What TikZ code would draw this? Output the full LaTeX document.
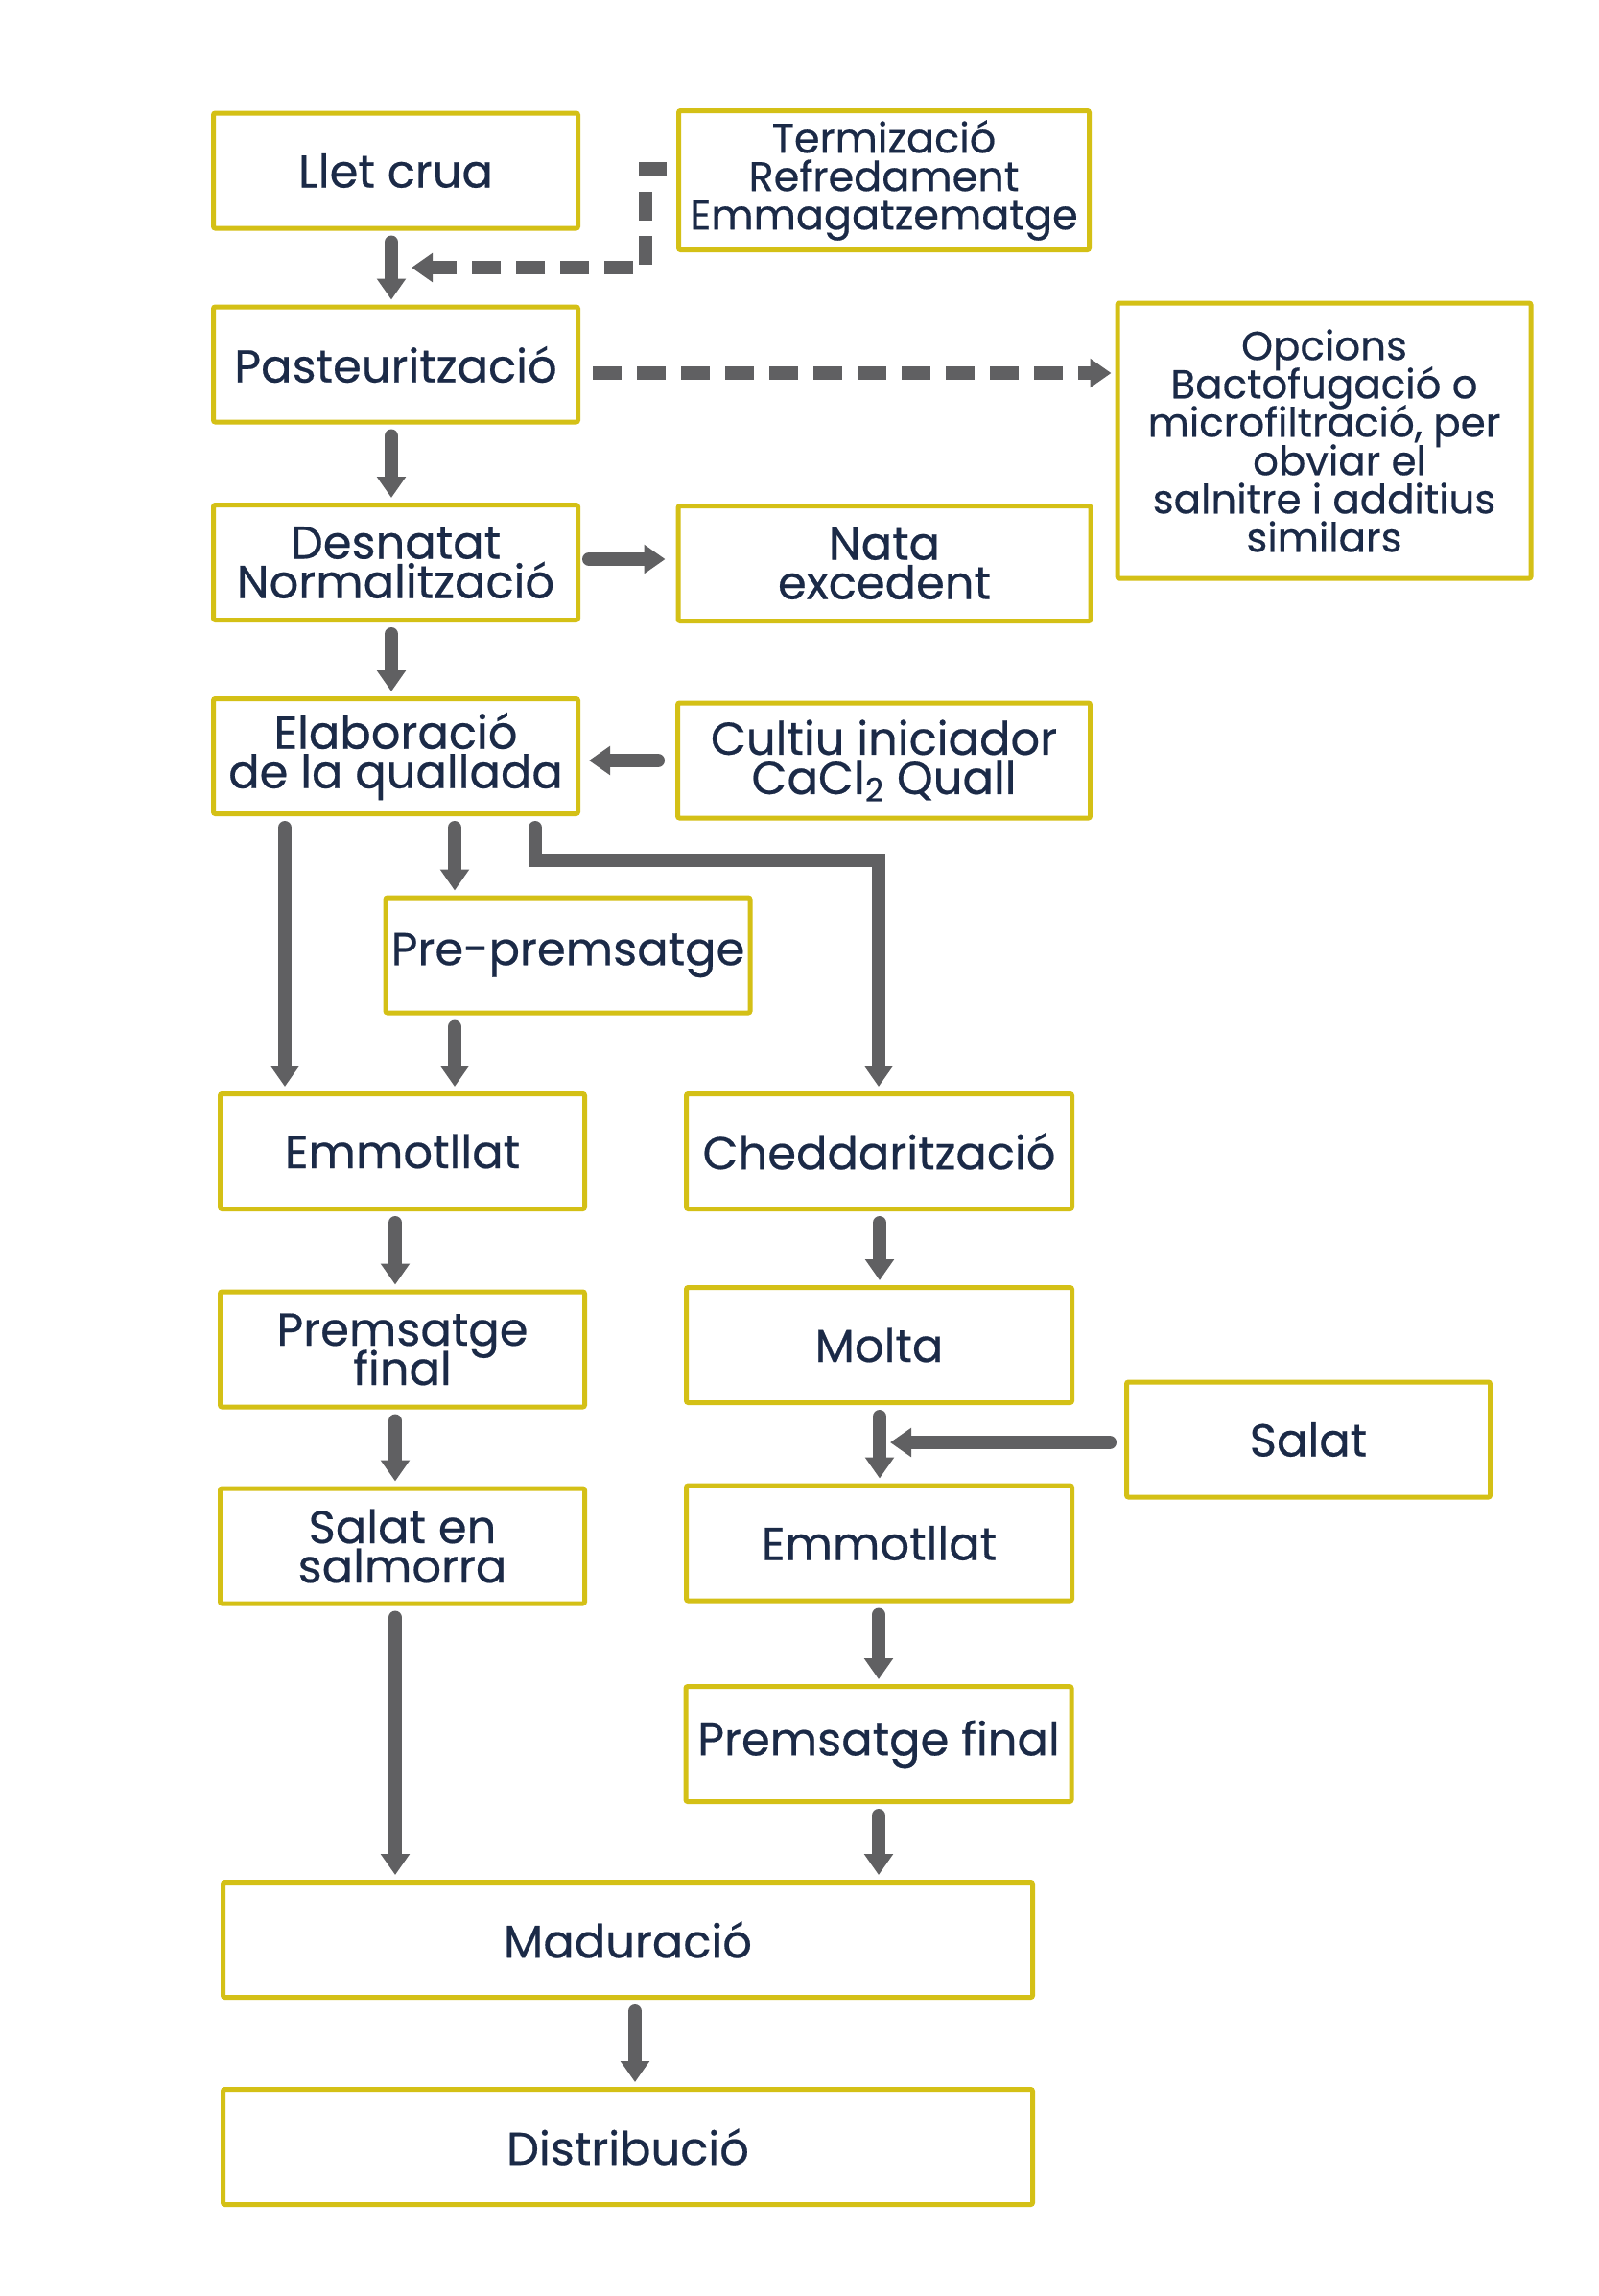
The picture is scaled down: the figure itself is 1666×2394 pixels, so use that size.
\documentclass[tikz,border=0pt]{standalone}
\usepackage{fontspec}
\setmainfont{Poppins}[FakeBold=0.4]
\usetikzlibrary{arrows.meta}
\definecolor{boxy}{RGB}{212,192,22}
\definecolor{navy}{RGB}{27,42,71}
\definecolor{arrg}{RGB}{96,96,98}
\newcommand\tightlns{\lineskiplimit-50pt\relax}
\begin{document}
\begin{tikzpicture}[x=0.5pt,y=-0.5pt,
  box/.style={draw=boxy, line width=2.5pt, fill=white, text=navy, align=center,
    inner sep=0pt, minimum height=60pt, minimum width=190pt, rounded corners=1pt,
    font=\fontsize{24}{20.5}\selectfont\tightlns},
  cbox/.style={box, font=\fontsize{21.5}{20}\selectfont\tightlns},
  obox/.style={box, font=\fontsize{21}{20}\selectfont\tightlns},
  arr/.style={draw=arrg, line width=7pt, line cap=round,
    -{Triangle[width=14.5pt,length=11pt]}, shorten <=6pt, shorten >=2.5pt},
  darr/.style={draw=arrg, line width=7pt, line cap=butt, dash pattern=on 15pt off 8pt,
    -{Triangle[width=14.5pt,length=11pt]}}
]
\fill[white] (0,0) rectangle (1666,2394);
\useasboundingbox (0,0) rectangle (1666,2394);

% boxes
\node[box] (llet) at (412.5,178) {Llet crua};
\node[cbox, minimum width=214pt, minimum height=72.5pt] (term) at (921.5,188)
  {Termizació\\Refredament\\Emmagatzematge};
\node[box] (past) at (412.5,380) {Pasteurització};
\node[obox, minimum width=215.5pt, minimum height=143.5pt] (opc) at (1380.5,459.5)
  {Opcions\\Bactofugació o\\microfiltració, per\\\hspace*{16pt}obviar el\\salnitre i additius\\similars};
\node[box] (desn) at (412.5,586.5) {Desnatat\\Normalització};
\node[box, minimum width=215pt] (nata) at (922,587.5) {Nata\\excedent};
\node[box] (elab) at (412.5,788.5) {Elaboració\\de la quallada};
\node[box, minimum width=215pt] (cult) at (921.5,793) {Cultiu iniciador\\CaCl\textsubscript{2} Quall};
\node[box] (pre) at (592,996) {Pre-premsatge};
\node[box] (emL) at (419.5,1200.5) {Emmotllat};
\node[box, minimum width=201pt] (ched) at (916.5,1200.5) {Cheddarització};
\node[box] (premL) at (419.5,1407) {Premsatge\\final};
\node[box, minimum width=201pt] (molta) at (916.5,1402.5) {Molta};
\node[box, minimum width=189.5pt] (salat) at (1364,1501) {Salat};
\node[box] (salm) at (419.5,1612) {Salat en\\salmorra};
\node[box, minimum width=201pt] (emR) at (916.5,1609) {Emmotllat};
\node[box, minimum width=201pt] (premR) at (916,1818.5) {Premsatge final};
\node[box, minimum width=422pt] (mad) at (654.5,2022.5) {Maduració};
\node[box, minimum width=422pt] (dist) at (654.5,2238.5) {Distribució};

% helper coordinates
\coordinate (x408) at (408,0);
\coordinate (x297) at (297,0);
\coordinate (x474) at (474,0);
\coordinate (x558) at (558,0);
\coordinate (x412) at (412,0);
\coordinate (x917) at (917,0);
\coordinate (x662) at (662,0);
\coordinate (dA) at (0,176);
\coordinate (dB) at (673,279);
\coordinate (dC) at (429,279);
\coordinate (y389) at (0,389);
\coordinate (y583) at (0,583);
\coordinate (y793) at (0,793);
\coordinate (e1) at (916,897);
\coordinate (s1) at (928,1504);

% connectors
\draw[arr] (llet.south -| x408) -- (past.north -| x408);
\draw[darr, shorten <=5pt] (term.west |- dA) -| (dB) -- (dC);
\draw[darr, shorten <=6.5pt, shorten >=2pt] (past.east |- y389) -- (opc.west |- y389);
\draw[arr] (past.south -| x408) -- (desn.north -| x408);
\draw[arr, shorten <=4.5pt, shorten >=5.5pt] (desn.east |- y583) -- (nata.west |- y583);
\draw[arr] (desn.south -| x408) -- (elab.north -| x408);
\draw[arr, shorten <=9pt, shorten >=4.5pt] (cult.west |- y793) -- (elab.east |- y793);
\draw[arr] (elab.south -| x297) -- (emL.north -| x297);
\draw[arr] (elab.south -| x474) -- (pre.north -| x474);
\draw[arr] (pre.south -| x474) -- (emL.north -| x474);
\draw[arr, line join=miter] (elab.south -| x558) |- (e1) -- (ched.north -| e1);
\draw[arr] (emL.south -| x412) -- (premL.north -| x412);
\draw[arr] (premL.south -| x412) -- (salm.north -| x412);
\draw[arr] (salm.south -| x412) -- (mad.north -| x412);
\draw[arr] (ched.south -| x917) -- (molta.north -| x917);
\draw[arr] (molta.south -| x917) -- (emR.north -| x917);
\draw[arr, shorten <=7.5pt, shorten >=0pt] (salat.west |- s1) -- (s1);
\draw[arr] (emR.south -| e1) -- (premR.north -| e1);
\draw[arr] (premR.south -| e1) -- (mad.north -| e1);
\draw[arr] (mad.south -| x662) -- (dist.north -| x662);
\end{tikzpicture}
\end{document}
